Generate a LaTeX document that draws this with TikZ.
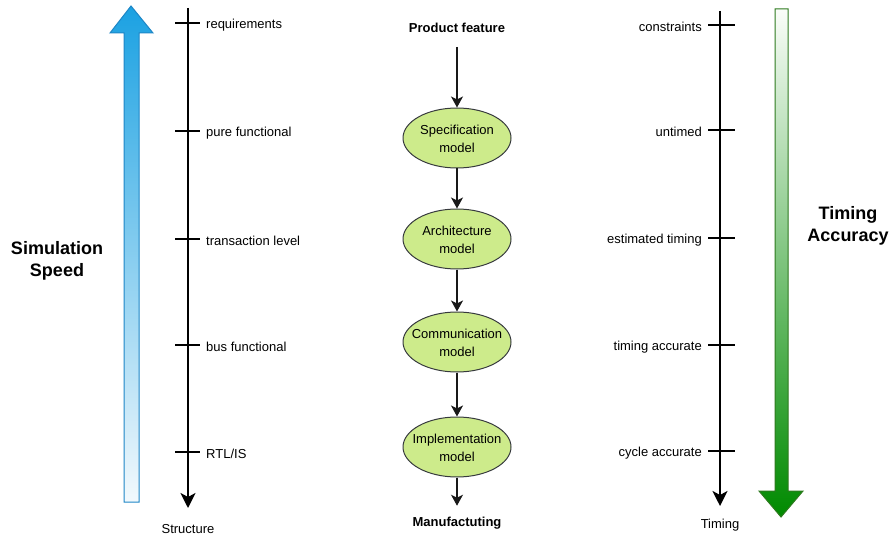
\documentclass[tikz,border=0pt]{standalone}
\usepackage{fontspec}
\setmainfont{Liberation Sans}
\usetikzlibrary{shapes.geometric,arrows.meta}

\definecolor{modelfill}{HTML}{CDEB8B}
\definecolor{modeldraw}{HTML}{36393D}
\definecolor{speedtop}{HTML}{1BA1E2}
\definecolor{speedbot}{HTML}{F2F9FD}
\definecolor{speeddraw}{HTML}{1E86C6}
\definecolor{acctop}{HTML}{FAFDF9}
\definecolor{accbot}{HTML}{008A00}
\definecolor{accdraw}{HTML}{2D7A1E}

\tikzset{
  txt/.style={font=\fontsize{13}{16}\selectfont, inner sep=0pt, yshift=-2pt},
  boldtxt/.style={font=\fontsize{13}{16}\selectfont\bfseries, inner sep=0pt, yshift=-1pt},
  bigtxt/.style={font=\fontsize{18}{22}\selectfont\bfseries, align=center, inner sep=0pt},
  model/.style={ellipse, draw=modeldraw, fill=modelfill, line width=1pt,
                minimum width=108pt, minimum height=60pt, inner sep=0pt},
  modeltxt/.style={font=\fontsize{13}{18}\selectfont, align=center, inner sep=0pt, yshift=-1pt},
  axisline/.style={line width=2.2pt, -{Stealth[length=15pt, width=15pt, inset=4pt]}},
  tickmark/.style={line width=2.2pt},
  flow/.style={line width=1.3pt, draw=black!90,
               -{Stealth[length=11pt, width=12pt, inset=3pt]}},
}

\begin{document}
\begin{tikzpicture}[x=1pt, y=-1pt]
  \useasboundingbox (0,0) rectangle (890,537);

  % simulation speed arrow (upward, fading towards the tail)
  \path[draw=speeddraw, line width=1pt, top color=speedtop, bottom color=speedbot]
    (124,502) -- (124,33) -- (110,33) -- (131,6) -- (153,33) -- (139,33) -- (139,502) -- cycle;
  \node[bigtxt] (speed) at (57,261) {Simulation\\Speed};

  % timing accuracy arrow (downward, darkening towards the head)
  \path[draw=accdraw, line width=1pt, top color=acctop, bottom color=accbot]
    (775,9) -- (788,9) -- (788,491) -- (803,491) -- (781,517) -- (759,491) -- (775,491) -- cycle;
  \node[bigtxt] (accuracy) at (848,226) {Timing\\Accuracy};

  % structure axis
  \coordinate (sTop) at (188,8);
  \coordinate (sEnd) at (188,508);
  \draw[axisline] (sTop) -- (sEnd);
  \node[txt] (structure) at (188,527) {Structure};
  \foreach \y/\lab/\nm in {23/requirements/s1, 131/pure functional/s2,
                          239/transaction level/s3, 345/bus functional/s4, 452/RTL{/}IS/s5}{
    \coordinate (\nm) at (188,\y);
    \draw[tickmark] ([xshift=-13pt]\nm) -- ([xshift=12pt]\nm);
    \node[txt, anchor=west] (\nm-lab) at ([xshift=18pt]\nm) {\lab};
  }

  % timing axis
  \coordinate (tTop) at (720,11);
  \coordinate (tEnd) at (720,506);
  \draw[axisline] (tTop) -- (tEnd);
  \node[txt] (timing) at (720,523) {Timing};
  \foreach \y/\lab/\nm in {25/constraints/t1, 130/untimed/t2,
                          238/estimated timing/t3, 345/timing accurate/t4, 451/cycle accurate/t5}{
    \coordinate (\nm) at (720,\y);
    \draw[tickmark] ([xshift=-12pt]\nm) -- ([xshift=15pt]\nm);
    \node[txt, anchor=east] (\nm-lab) at ([xshift=-18pt]\nm) {\lab};
  }

  % design flow
  \node[boldtxt] (pf) at (457,27) {Product feature};
  \node[model] (spec) at (457,138) {};
  \node[modeltxt] at (spec) {Specification\\model};
  \node[model] (arch) at (457,239) {};
  \node[modeltxt] at (arch) {Architecture\\model};
  \node[model] (comm) at (457,342) {};
  \node[modeltxt] at (comm) {Communication\\model};
  \node[model] (impl) at (457,447) {};
  \node[modeltxt] at (impl) {Implementation\\model};
  \node[boldtxt] (manu) at (457,522) {Manufactuting};

  \draw[flow, shorten <=14pt] (pf) -- (spec);
  \draw[flow] (spec) -- (arch);
  \draw[flow] (arch) -- (comm);
  \draw[flow] (comm) -- (impl);
  \draw[flow, shorten >=11pt] (impl) -- (manu);
\end{tikzpicture}
\end{document}
